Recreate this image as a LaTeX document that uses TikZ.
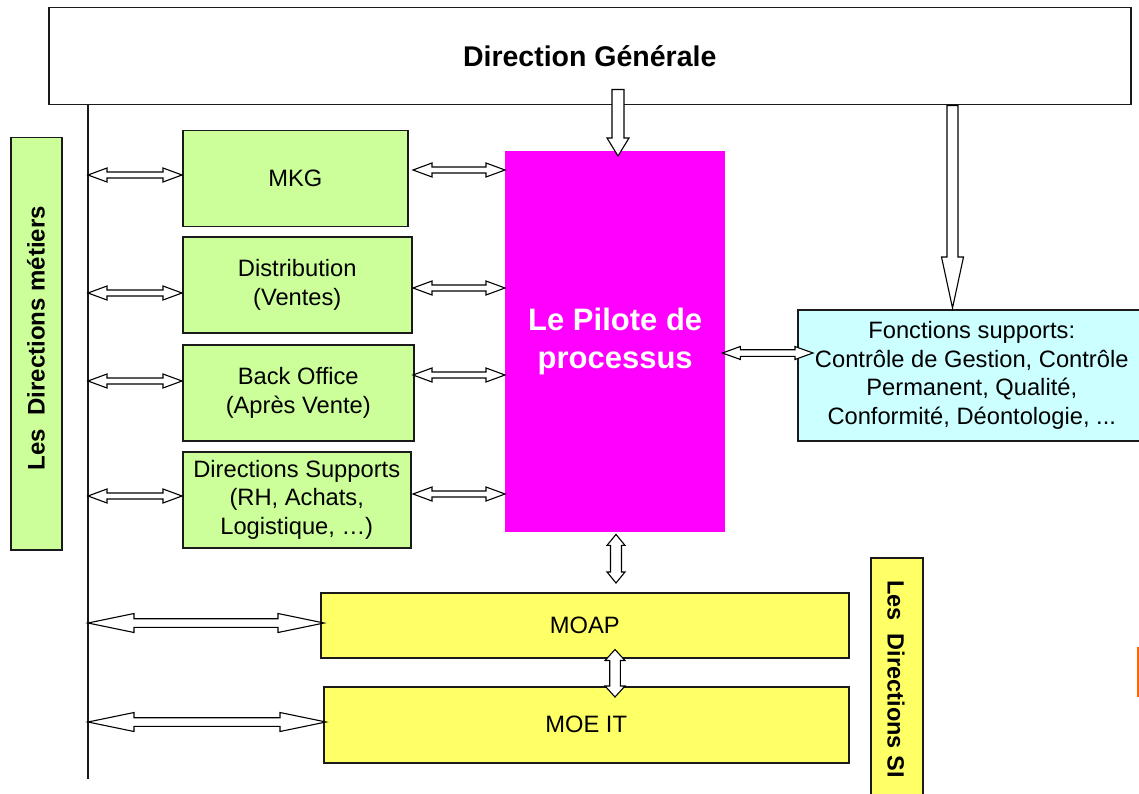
\documentclass[tikz,border=0pt]{standalone}
\usepackage{fontspec}
\setmainfont{Liberation Sans}
\usetikzlibrary{calc}
\definecolor{lgreen}{HTML}{CCFF99}
\definecolor{mag}{HTML}{FF00FF}
\definecolor{lcyan}{HTML}{CCFFFF}
\definecolor{lyellow}{HTML}{FFFF66}
\definecolor{orng}{HTML}{FF6600}
\definecolor{edge}{HTML}{1A1A1A}
\tikzset{
  blockarrow/.style={draw=black, fill=white, line width=1.1pt, line join=miter},
  basebox/.style={draw=edge, line width=1.5pt, anchor=north west, inner sep=2pt, align=center,
    font=\fontsize{23.7}{28.5}\selectfont},
  gbox/.style={basebox, fill=lgreen},
  ybox/.style={basebox, fill=lyellow},
  cbox/.style={basebox, fill=lcyan},
}
% horizontal double arrow: #1 left point, #2 right point, #3 y (px), #4 half shaft, #5 half head, #6 head length
\newcommand{\harr}[6]{%
  \draw[blockarrow] let \p1=(#1), \p2=(#2), \p3=(0,#3) in
   (\x1,\y3) -- (\x1+#6pt,\y3+#5pt) -- (\x1+#6pt,\y3+#4pt) -- (\x2-#6pt,\y3+#4pt)
   -- (\x2-#6pt,\y3+#5pt) -- (\x2,\y3) -- (\x2-#6pt,\y3-#5pt) -- (\x2-#6pt,\y3-#4pt)
   -- (\x1+#6pt,\y3-#4pt) -- (\x1+#6pt,\y3-#5pt) -- cycle;}
% vertical double arrow: #1 top point, #2 bottom point, #3 x (px), #4 half shaft, #5 half head, #6 head length
\newcommand{\vdarr}[6]{%
  \draw[blockarrow] let \p1=(#1), \p2=(#2), \p3=(#3,0) in
   (\x3,\y1) -- (\x3+#5pt,\y1-#6pt) -- (\x3+#4pt,\y1-#6pt) -- (\x3+#4pt,\y2+#6pt)
   -- (\x3+#5pt,\y2+#6pt) -- (\x3,\y2) -- (\x3-#5pt,\y2+#6pt) -- (\x3-#4pt,\y2+#6pt)
   -- (\x3-#4pt,\y1-#6pt) -- (\x3-#5pt,\y1-#6pt) -- cycle;}
% vertical single arrow pointing down
\newcommand{\varr}[6]{%
  \draw[blockarrow] let \p1=(#1), \p2=(#2), \p3=(#3,0) in
   (\x3-#4pt,\y1) -- (\x3+#4pt,\y1) -- (\x3+#4pt,\y2+#6pt) -- (\x3+#5pt,\y2+#6pt)
   -- (\x3,\y2) -- (\x3-#5pt,\y2+#6pt) -- (\x3-#4pt,\y2+#6pt) -- cycle;}
\begin{document}
\begin{tikzpicture}[x=1pt,y=-1pt]
\useasboundingbox (0,0) rectangle (1139,794);
\clip (0,0) rectangle (1139,794);
\fill[white] (0,0) rectangle (1139,794);

% Direction Generale
\node[basebox, fill=white, minimum width=1082pt, minimum height=97pt,
      font=\fontsize{28.5}{34}\selectfont\bfseries] (dg) at (48,7) {Direction Générale};

% spine
\coordinate (sp) at (88,104);
\coordinate (spb) at (88,779);
\draw[edge, line width=1.3pt] (sp) -- (spb);

% left label
\node[gbox, minimum width=51pt, minimum height=412pt] (lab1) at (10,137) {};
\node[rotate=90, font=\fontsize{24}{28}\selectfont\bfseries] (lab1t) at (36,338) {Les\ \ Directions métiers};

% green boxes
\node[gbox, minimum width=225pt, minimum height=96pt] (mkg) at (182,130) {MKG};
\node[gbox, minimum width=229pt, minimum height=96pt] (dist) at (182,236) {Distribution\\(Ventes)};
\node[gbox, minimum width=231pt, minimum height=96pt] (bo) at (182,344) {Back Office\\(Après Vente)};
\node[gbox, minimum width=228pt, minimum height=96pt] (dsup) at (182,451) {Directions Supports\\(RH, Achats,\\Logistique, …)};

% pilote
\node[fill=mag, anchor=north west, minimum width=220pt, minimum height=381pt, inner sep=0pt,
      text=white, align=center, font=\fontsize{31}{38}\selectfont\bfseries] (pink) at (505,151)
      {Le Pilote de\\processus};

% fonctions supports
\node[cbox, minimum width=348pt, minimum height=131pt] (fonc) at (797,309)
  {Fonctions supports:\\Contrôle de Gestion, Contrôle\\Permanent, Qualité,\\Conformité, Déontologie, ...};

% yellow boxes
\node[ybox, minimum width=528pt, minimum height=65pt] (moap) at (320,592) {MOAP};
\node[ybox, minimum width=525pt, minimum height=76pt] (moe) at (323,686) {MOE IT};

% SI label
\node[ybox, minimum width=52pt, minimum height=250pt] (lab2) at (870,557) {};
\node[rotate=-90, font=\fontsize{23.5}{28}\selectfont\bfseries] (lab2t) at (896,679) {Les\ \ Directions SI};

% orange fragment
\draw[orng, line width=2.5pt] (1138,647) -- (1138,697);

% arrows from Direction Generale
\varr{$(dg.south)+(0,-16)$}{$(pink.north)+(0,5)$}{618}{6}{11}{18}
\varr{dg.south}{$(fonc.north)+(0,-1)$}{952.5}{5.5}{11}{51}

% spine <-> green boxes
\harr{sp}{mkg.west}{175}{3}{7}{19}
\harr{sp}{dist.west}{293}{3}{7}{19}
\harr{sp}{bo.west}{381}{3}{7}{19}
\harr{sp}{dsup.west}{496}{3}{7}{19}

% green boxes <-> pilote
\harr{$(pink.west)+(-92,0)$}{pink.west}{170}{3}{7}{19}
\harr{$(pink.west)+(-92,0)$}{pink.west}{288}{3}{7}{19}
\harr{$(pink.west)+(-92,0)$}{pink.west}{375}{3}{7}{19}
\harr{$(pink.west)+(-92,0)$}{pink.west}{494}{3}{7}{19}

% pilote <-> fonctions
\harr{$(pink.east)+(-3,0)$}{$(fonc.west)+(16,0)$}{353}{3.3}{6.5}{18}

% spine <-> SI boxes
\harr{sp}{$(moap.west)+(4,0)$}{623}{4.3}{9.5}{46}
\harr{sp}{$(moe.west)+(3,0)$}{722}{4.3}{9.5}{46}

% vertical double arrows
\vdarr{$(pink.south)+(0,2)$}{$(moap.north)+(0,-9)$}{616}{5.5}{9}{11}
\vdarr{$(moap.south)+(0,-9)$}{$(moe.north)+(0,11)$}{615}{5.3}{10}{11}
\end{tikzpicture}
\end{document}
